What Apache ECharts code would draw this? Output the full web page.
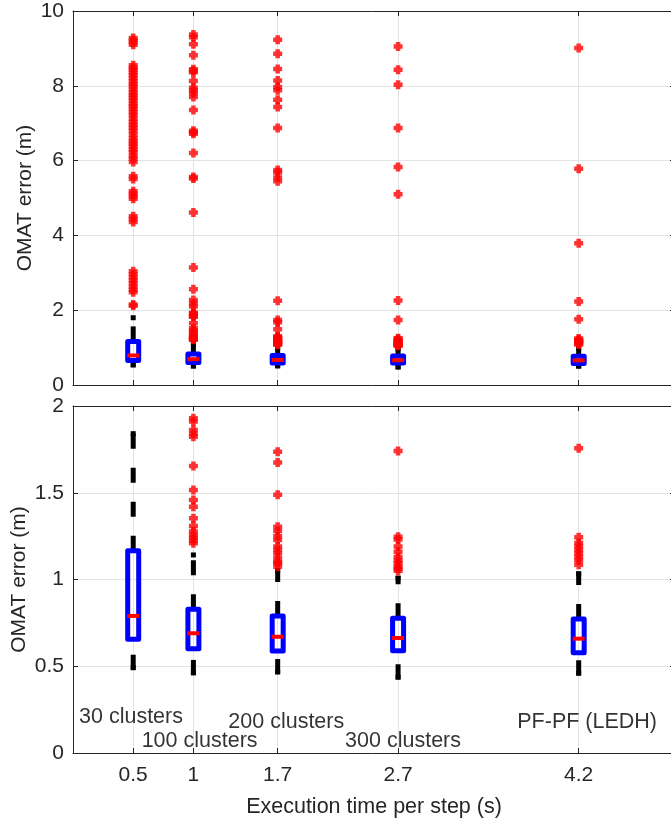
<!DOCTYPE html>
<html><head><meta charset="utf-8">
<script src="https://cdn.jsdelivr.net/npm/echarts@6/dist/echarts.min.js"></script>
<style>html,body{margin:0;padding:0;background:#fff}#c{width:671px;height:821px}</style>
</head><body><div id="c"></div>
<script>
// ---- data ----
const positions = [0.5, 1, 1.7, 2.7, 4.2];
const whiskerLow = [0.48, 0.45, 0.455, 0.425, 0.448];
const q1 = [0.655, 0.601, 0.588, 0.59, 0.578];
const median = [0.79, 0.69, 0.67, 0.663, 0.659];
const q3 = [1.166, 0.828, 0.79, 0.776, 0.772];
const whiskerHigh = [1.852, 1.153, 1.064, 1.02, 1.045];

const outliers05 = [9.28, 9.22, 9.16, 9.1,
  8.55, 8.48, 8.42, 8.35, 8.28, 8.2, 8.12, 8.05, 7.98, 7.9, 7.82, 7.75, 7.68, 7.6, 7.52, 7.45,
  7.38, 7.3, 7.22, 7.12, 7.03, 6.95, 6.88, 6.8, 6.7, 6.6, 6.52, 6.45, 6.38, 6.3, 6.22, 6.12, 6.05, 5.96,
  5.58, 5.51, 5.18, 5.12, 5.05, 4.98, 4.51, 4.44, 4.36,
  3.04, 2.96, 2.88, 2.8, 2.72, 2.63, 2.55, 2.48, 2.15, 2.12];
const outliers1 = [9.37, 9.3, 9.11, 8.82, 8.44, 8.4, 8.36, 8.13, 7.95, 7.88, 7.8, 7.7, 7.35,
  6.8, 6.76, 6.72, 6.2, 5.56, 5.52, 4.61, 3.14, 2.56, 2.27, 2.18, 2.1,
  1.93, 1.91, 1.862, 1.84, 1.823, 1.654, 1.516, 1.458, 1.42, 1.353, 1.308, 1.276, 1.256, 1.24, 1.225, 1.209];
const outliers17 = [9.23, 8.86, 8.45, 8.14, 7.97, 7.88, 7.63, 7.43, 6.87, 5.75, 5.68, 5.55, 5.45, 2.25,
  1.737, 1.675, 1.489, 1.304, 1.28, 1.25, 1.228, 1.19, 1.17, 1.15, 1.122, 1.1, 1.093, 1.074];
const outliers27 = [9.05, 8.43, 8.03, 6.87, 5.83, 5.1, 2.26, 1.741, 1.247, 1.23, 1.19, 1.16, 1.13,
  1.11, 1.093, 1.075, 1.064, 1.05];
const outliers42 = [9.01, 5.78, 3.79, 2.23, 1.756, 1.243, 1.21, 1.19, 1.17, 1.15, 1.13, 1.11, 1.085];

const annotationText = ['30 clusters', '100 clusters', '200 clusters', '300 clusters', 'PF-PF (LEDH)'];
const annotationX = [0.05, 0.57, 1.29, 2.26, 3.69];
const annotationY = [0.205, 0.07, 0.176, 0.07, 0.176];

const xTicks = positions;

// ---- build ----
const outlierLists = [outliers05, outliers1, outliers17, outliers27, outliers42];
const boxRows = positions.map((p, i) => [p, whiskerLow[i], q1[i], median[i], q3[i], whiskerHigh[i]]);
const outlierPts = [];
outlierLists.forEach((arr, i) => arr.forEach(v => outlierPts.push([positions[i], v])));
const annotations = annotationText.map((t, i) => ({ name: t, value: [annotationX[i], annotationY[i]] }));

const FONT = 'Liberation Sans, Arial, Helvetica, sans-serif';
const AX = '#262626';
const GRIDC = '#e3e3e3';

function renderBox(params, api) {
  const x = api.value(0);
  const lo = api.coord([x, api.value(1)]);
  const a = api.coord([x, api.value(2)]);
  const m = api.coord([x, api.value(3)]);
  const b = api.coord([x, api.value(4)]);
  const hi = api.coord([x, api.value(5)]);
  const cx = a[0];
  const wStyle = { stroke: '#000', lineWidth: 5, lineDash: [15, 19], lineCap: 'butt', fill: null };
  const capStyle = { stroke: '#000', lineWidth: 5, fill: null };
  return {
    type: 'group',
    children: [
      { type: 'line', shape: { x1: cx, y1: lo[1], x2: cx, y2: a[1] }, style: wStyle },
      { type: 'line', shape: { x1: cx, y1: b[1], x2: cx, y2: hi[1] }, style: wStyle },
      { type: 'line', shape: { x1: cx - 2.5, y1: lo[1] - 2, x2: cx + 2.5, y2: lo[1] - 2 }, style: capStyle },
      { type: 'line', shape: { x1: cx - 2.5, y1: hi[1] + 2, x2: cx + 2.5, y2: hi[1] + 2 }, style: capStyle },
      { type: 'rect', shape: { x: cx - 5.5, y: b[1], width: 11, height: a[1] - b[1] },
        style: { fill: 'none', stroke: '#0000ff', lineWidth: 5, lineJoin: 'round' } },
      { type: 'line', shape: { x1: cx - 6, y1: m[1], x2: cx + 6, y2: m[1] },
        style: { stroke: '#ff0000', lineWidth: 4, fill: null } }
    ]
  };
}

function xAx(grid, pos, labels) {
  return {
    type: 'value', gridIndex: grid, position: pos, min: 0, max: 5,
    name: labels ? 'Execution time per step (s)' : '',
    nameLocation: 'middle', nameGap: 43, nameMoveOverlap: false,
    nameTextStyle: { fontFamily: FONT, fontSize: 21.5, color: AX },
    axisLine: { show: true, onZero: false, lineStyle: { color: AX, width: 1 } },
    axisTick: { show: true, inside: true, length: 5, customValues: xTicks, lineStyle: { color: AX } },
    axisLabel: { show: !!labels, customValues: xTicks, margin: 12, fontFamily: FONT, fontSize: 21, color: AX,
      formatter: v => String(v) },
    splitLine: { show: pos === 'bottom', lineStyle: { color: GRIDC, width: 1 } }
  };
}
function yAx(grid, pos, max, interval, gap) {
  const left = pos === 'left';
  return {
    type: 'value', gridIndex: grid, position: pos, min: 0, max: max, interval: interval,
    name: left ? 'OMAT error (m)' : '', nameLocation: 'middle', nameGap: gap, nameMoveOverlap: false,
    nameTextStyle: { fontFamily: FONT, fontSize: 21, color: AX },
    axisLine: { show: true, onZero: false, lineStyle: { color: AX, width: 1 } },
    axisTick: { show: true, inside: true, length: 5, lineStyle: { color: AX } },
    axisLabel: { show: left, margin: 9, fontFamily: FONT, fontSize: 21, color: AX,
      formatter: v => String(v) },
    splitLine: { show: left, lineStyle: { color: GRIDC, width: 1 } }
  };
}

const plusSymbol = 'path://M2.5,0H7.5V2.5H10V7.5H7.5V10H2.5V7.5H0V2.5H2.5Z';

const option = {
  animation: false,
  backgroundColor: '#fff',
  grid: [
    { left: 73, top: 11, width: 602, height: 374, outerBoundsMode: 'none', containLabel: false },
    { left: 73, top: 406, width: 602, height: 347, outerBoundsMode: 'none', containLabel: false }
  ],
  xAxis: [xAx(0, 'bottom', false), xAx(0, 'top', false), xAx(1, 'bottom', true), xAx(1, 'top', false)],
  yAxis: [yAx(0, 'left', 10, 2, 37.5), yAx(0, 'right', 10, 2, 0), yAx(1, 'left', 2, 0.5, 43), yAx(1, 'right', 2, 0.5, 0)],
  series: [
    { type: 'custom', xAxisIndex: 0, yAxisIndex: 0, data: boxRows, renderItem: renderBox, z: 2 },
    { type: 'custom', xAxisIndex: 2, yAxisIndex: 2, data: boxRows, renderItem: renderBox, z: 2 },
    { type: 'scatter', xAxisIndex: 0, yAxisIndex: 0, data: outlierPts, symbol: plusSymbol, symbolSize: 9,
      itemStyle: { color: '#ff0000' }, clip: true, z: 3 },
    { type: 'scatter', xAxisIndex: 2, yAxisIndex: 2, data: outlierPts, symbol: plusSymbol, symbolSize: 9,
      itemStyle: { color: '#ff0000' }, clip: true, z: 3 },
    { type: 'scatter', xAxisIndex: 2, yAxisIndex: 2, data: annotations, symbolSize: 0, silent: true, z: 4,
      label: { show: true, position: 'right', distance: 0, formatter: p => p.name,
        fontFamily: FONT, fontSize: 21.5, color: '#000' } }
  ]
};
const chart = echarts.init(document.getElementById('c'), null, { renderer: 'canvas' });
chart.setOption(option);
</script></body></html>
